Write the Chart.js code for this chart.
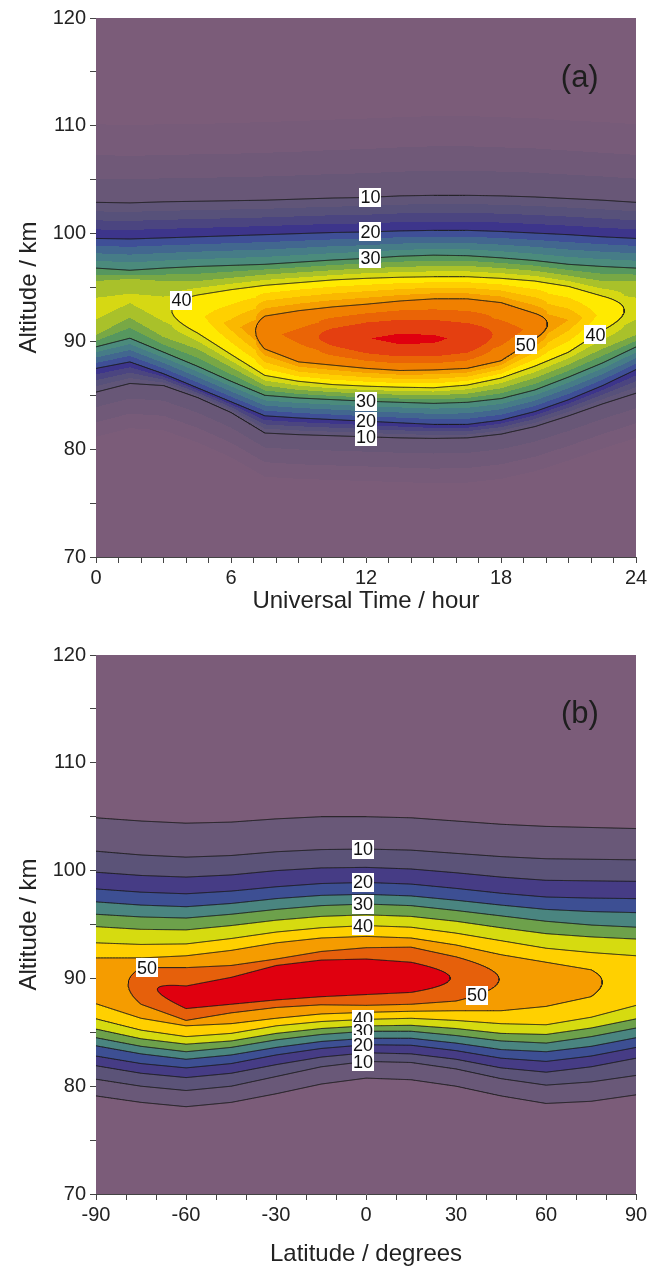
<!DOCTYPE html>
<html><head><meta charset="utf-8">
<script src="https://cdn.jsdelivr.net/npm/chart.js@4/dist/chart.umd.min.js"></script>
<style>
html,body{margin:0;padding:0;background:#fff;}
#wrapA{position:absolute;left:0;top:0;width:651px;height:637px;}
#wrapB{position:absolute;left:0;top:637px;width:651px;height:634px;}
</style></head><body>
<div id="wrapA"><canvas id="chartA" width="651" height="637"></canvas></div>
<div id="wrapB"><canvas id="chartB" width="651" height="634"></canvas></div>
<script>
// ===================== DATA : panel (a) =====================
// columns: universal time (hours)
const utHours = [0, 1.5, 3, 4.5, 6, 7.5, 9, 10.5, 12, 13.5, 15, 16.5, 18, 19.5, 21, 22.5, 24];
// altitude (km) where the field crosses each level, above (Up) and below (Lo) the peak
const aUp0  = [113.0,112.9,113.0,113.0,113.1,113.2,113.3,113.4,113.5,113.6,113.7,113.7,113.6,113.5,113.3,113.2,113.0];
const aUp5  = [107.3,107.2,107.3,107.35,107.4,107.5,107.6,107.75,107.85,108.0,108.1,108.1,108.0,107.9,107.7,107.5,107.3];
const aUp10 = [102.9,102.85,102.95,103.0,103.05,103.1,103.2,103.3,103.35,103.5,103.55,103.55,103.5,103.4,103.25,103.1,102.9];
const aUp20 = [99.55,99.5,99.6,99.7,99.8,99.9,100.0,100.1,100.15,100.25,100.3,100.3,100.2,100.05,99.9,99.7,99.55];
const aUp30 = [96.8,96.6,96.8,96.95,97.05,97.15,97.35,97.55,97.7,97.9,98.0,97.95,97.75,97.5,97.15,96.95,96.8];
const aUp35 = [95.6,95.8,95.6,95.6,95.9,96.2,96.4,96.6,96.8,96.9,97.0,97.0,96.8,96.55,96.1,95.6,95.6];
const aUp40 = [null,null,null,94.3,94.8,95.2,95.45,95.7,95.85,95.95,96.0,96.0,95.85,95.6,95.1,94.2,null];
const aUp50 = [null,null,null,null,null,92.35,92.85,93.2,93.45,93.75,93.95,93.95,93.6,92.6,null,null,null];
const aUp55 = [null,null,null,null,null,null,null,91.2,91.75,92.0,92.0,91.7,null,null,null,null,null];
const aLo55 = [null,null,null,null,null,null,null,89.6,88.9,88.6,88.6,88.95,null,null,null,null,null];
const aLo50 = [null,null,null,null,null,89.3,88.1,87.8,87.5,87.3,87.35,87.5,88.2,90.2,null,null,null];
const aLo40 = [null,null,null,90.8,88.8,86.85,86.3,86.0,85.85,85.75,85.7,85.95,86.6,87.7,89.0,91.0,null];
const aLo35 = [90.6,92.2,90.4,89.3,87.6,85.9,85.5,85.3,85.15,85.05,85.0,85.15,85.65,86.6,87.85,89.3,90.6];
const aLo30 = [89.5,90.3,89.0,87.7,86.3,85.0,84.75,84.6,84.45,84.35,84.25,84.35,84.7,85.5,86.7,88.0,89.5];
const aLo20 = [87.5,88.1,87.0,85.7,84.4,83.1,82.9,82.75,82.6,82.45,82.3,82.3,82.7,83.5,84.6,85.9,87.4];
const aLo10 = [85.3,86.1,85.9,84.8,83.4,81.5,81.35,81.25,81.15,81.05,81.0,81.05,81.4,82.1,83.1,84.2,85.2];
const aLo5  = [82.5,83.3,83.1,82.0,80.6,78.8,78.6,78.5,78.4,78.3,78.2,78.25,78.6,79.3,80.3,81.4,82.4];
const aLo0  = [79.8,80.6,80.4,79.3,77.9,76.1,75.9,75.8,75.7,75.6,75.5,75.55,75.9,76.6,77.6,78.7,79.7];
const aPeak    = [39.2,38.3,39.5,41.5,46,51.5,53.5,56,57.3,58.5,58.2,56.5,54.5,51.5,47.5,41.5,39.2];
const aPeakAlt = [93.0,94.0,93.0,92.5,91.5,90.8,90.5,90.4,90.3,90.2,90.2,90.4,90.7,91.3,92.0,92.5,93.0];
const aLineLevels = [10, 20, 30, 40, 50];
const aColors = ['#7b5c79','#775b79','#705978','#685777','#605578','#57517a','#4b4580','#3d358b',
                 '#3f4f97','#42678f','#467c87','#4b8b7c','#56975f','#78a845','#a9c12a','#d6d813',
                 '#ffea00','#ffd000','#fab800','#f59d00','#f08000','#ea6406','#e43f10','#e0000f'];
const aXTicks = [0, 6, 12, 18, 24];

// ===================== DATA : panel (b) =====================
const latDeg = [-90, -75, -60, -45, -30, -15, 0, 15, 30, 45, 60, 75, 90];
const bUp5  = [104.9,104.6,104.4,104.5,104.8,105.0,105.0,104.9,104.6,104.3,104.1,104.0,103.9];
const bUp10 = [101.8,101.45,101.25,101.4,101.75,101.95,102.0,101.9,101.6,101.3,101.1,101.05,101.0];
const bUp15 = [99.85,99.55,99.4,99.6,100.0,100.25,100.3,100.15,99.8,99.4,99.1,99.05,99.0];
const bUp20 = [98.3,98.0,97.85,98.1,98.5,98.8,98.9,98.75,98.35,97.9,97.55,97.45,97.4];
const bUp25 = [97.1,96.8,96.65,96.95,97.4,97.7,97.8,97.65,97.25,96.8,96.4,96.2,96.1];
const bUp30 = [95.95,95.7,95.6,95.95,96.4,96.75,96.9,96.75,96.3,95.8,95.3,94.95,94.75];
const bUp35 = [94.8,94.55,94.5,94.9,95.4,95.75,95.9,95.75,95.3,94.7,94.15,93.85,93.65];
const bUp40 = [93.3,93.15,93.2,93.7,94.3,94.7,94.9,94.75,94.2,93.5,92.8,92.4,92.1];
const bUp45 = [91.9,91.9,92.1,92.6,93.3,93.75,93.9,93.75,93.1,92.2,91.5,90.8,null];
const bUp50 = [null,91.0,91.0,91.2,91.8,92.5,92.85,92.9,92.0,null,null,null,null];
const bUp55 = [null,null,89.3,90.1,91.2,91.7,91.8,91.5,null,null,null,null,null];
const bLo55 = [null,null,87.2,87.6,88.0,88.3,88.5,88.7,null,null,null,null,null];
const bLo50 = [null,87.6,86.1,86.8,87.3,87.55,87.5,87.6,87.9,null,null,null,null];
const bLo45 = [87.65,86.3,85.6,85.8,86.3,86.7,86.85,86.95,87.0,87.0,87.4,88.3,null];
const bLo40 = [86.25,85.2,84.6,84.9,85.6,86.0,86.2,86.3,86.1,85.8,85.7,86.4,87.5];
const bLo35 = [85.3,84.4,83.9,84.2,84.9,85.35,85.6,85.65,85.35,84.9,84.8,85.4,86.25];
const bLo30 = [84.5,83.7,83.2,83.6,84.3,84.8,85.1,85.1,84.7,84.2,84.0,84.6,85.4];
const bLo25 = [83.75,83.0,82.5,82.9,83.6,84.15,84.45,84.45,84.0,83.4,83.2,83.7,84.5];
const bLo20 = [82.8,82.1,81.7,82.1,82.9,83.5,83.85,83.8,83.3,82.6,82.3,82.8,83.6];
const bLo15 = [81.9,81.2,80.8,81.2,82.0,82.7,83.1,83.0,82.5,81.7,81.3,81.8,82.6];
const bLo10 = [80.65,80.0,79.6,80.0,80.9,81.8,82.3,82.2,81.6,80.7,80.1,80.4,81.0];
const bLo5  = [79.1,78.5,78.1,78.5,79.3,80.2,80.75,80.6,80.0,79.1,78.4,78.6,79.2];
const bPeak    = [47.5,51.0,62.0,60.0,59.5,59.0,58.5,58.4,54.5,49.8,48.0,46.5,40.5];
const bPeakAlt = [89.8,89.4,88.3,88.8,89.5,89.9,90.1,90.1,90.0,89.9,89.7,89.6,89.8];
const bLineLevels = [5, 10, 15, 20, 25, 30, 35, 40, 45, 50, 55];
const bColors = ['#7b5c79','#695878','#5b5378','#463c85','#3d4f93','#4a8580',
                 '#6da14b','#d6db10','#ffd000','#f59c00','#e6600b','#e0000f'];
const bXTicks = [-90, -60, -30, 0, 30, 60, 90];
const yTicks = [70, 80, 90, 100, 110, 120];

// ===================== field model =====================
function makePanel(xs, levelDefs, peak, peakAlt, yMin, yMax) {
  return {
    xs, yMin, yMax,
    levels: levelDefs.map(d => d[0]),
    cols: xs.map((x, i) => ({
      x, peak: peak[i], pa: peakAlt[i],
      up: levelDefs.map(d => d[1][i]), lo: levelDefs.map(d => d[2][i])
    }))
  };
}
const panelA = makePanel(utHours,
  [[0,aUp0,aLo0],[5,aUp5,aLo5],[10,aUp10,aLo10],[20,aUp20,aLo20],[30,aUp30,aLo30],[35,aUp35,aLo35],[40,aUp40,aLo40],[50,aUp50,aLo50],[55,aUp55,aLo55]],
  aPeak, aPeakAlt, 70, 120);
const panelB = makePanel(latDeg,
  [[5,bUp5,bLo5],[10,bUp10,bLo10],[15,bUp15,bLo15],[20,bUp20,bLo20],[25,bUp25,bLo25],[30,bUp30,bLo30],
   [35,bUp35,bLo35],[40,bUp40,bLo40],[45,bUp45,bLo45],[50,bUp50,bLo50],[55,bUp55,bLo55]],
  bPeak, bPeakAlt, 70, 120);

function profileAt(P, x) {
  const xs = P.xs; let i = 0;
  while (i < xs.length - 2 && x > xs[i + 1]) i++;
  let t = (x - xs[i]) / (xs[i + 1] - xs[i]); t = Math.max(0, Math.min(1, t));
  const A = P.cols[i], B = P.cols[i + 1];
  const pv = A.peak + (B.peak - A.peak) * t;
  const pa = A.pa + (B.pa - A.pa) * t;
  const lv = [];
  P.levels.forEach((k, j) => {
    if (k >= pv) return;
    const aOk = A.up[j] != null && A.peak > k, bOk = B.up[j] != null && B.peak > k;
    let up, lo;
    if (aOk && bOk) {
      up = A.up[j] + (B.up[j] - A.up[j]) * t; lo = A.lo[j] + (B.lo[j] - A.lo[j]) * t;
    } else if (aOk) {
      const ts = (A.peak - B.peak) > 0 ? (A.peak - k) / (A.peak - B.peak) : 1;
      const s = Math.sqrt(Math.max(0, 1 - t / ts));
      up = pa + (A.up[j] - A.pa) * s; lo = pa + (A.lo[j] - A.pa) * s;
    } else if (bOk) {
      const ts = (B.peak - A.peak) > 0 ? (k - A.peak) / (B.peak - A.peak) : 0;
      const s = Math.sqrt(Math.max(0, (t - ts) / (1 - ts)));
      up = pa + (B.up[j] - B.pa) * s; lo = pa + (B.lo[j] - B.pa) * s;
    } else return;
    lv.push({ k, up, lo });
  });
  return { pv, pa, lv };
}

function profilePoints(P, pr) {
  const alt = [P.yMin], val = [0];
  pr.lv.forEach(e => { alt.push(Math.max(e.lo, alt[alt.length - 1])); val.push(e.k); });
  alt.push(Math.max(pr.pa, alt[alt.length - 1])); val.push(pr.pv);
  for (let q = pr.lv.length - 1; q >= 0; q--) { alt.push(Math.max(pr.lv[q].up, alt[alt.length - 1])); val.push(pr.lv[q].k); }
  alt.push(Math.max(P.yMax, alt[alt.length - 1])); val.push(0);
  return { alt, val };
}

function hexToRgb(h) { const n = parseInt(h.slice(1), 16); return [(n >> 16) & 255, (n >> 8) & 255, n & 255]; }

// ===================== contour line datasets =====================
function levelAt(P, x, k) { return profileAt(P, x).lv.find(e => e.k === k) || null; }
function tipPoint(P, k, xIn, xOut) {
  for (let it = 0; it < 30; it++) { const m = (xIn + xOut) / 2; if (levelAt(P, m, k)) xIn = m; else xOut = m; }
  return { x: xIn, y: profileAt(P, xIn).pa };
}
function lineSet(pts) {
  return { data: pts, showLine: true, pointRadius: 0, pointHoverRadius: 0, borderColor: '#1a1a1a', borderWidth: 1, fill: false, tension: 0 };
}
function contourDatasets(P, lineLevels, n) {
  const xMin = P.xs[0], xMax = P.xs[P.xs.length - 1];
  const sets = [];
  lineLevels.forEach(k => {
    const runs = []; let run = null; let prevX = null;
    for (let s = 0; s <= n; s++) {
      const x = xMin + (xMax - xMin) * s / n;
      const L = levelAt(P, x, k);
      if (L) {
        if (!run) run = { start: s, startOut: prevX, ups: [], los: [] };
        run.ups.push({ x, y: L.up }); run.los.push({ x, y: L.lo }); run.end = s; run.lastX = x;
      } else if (run) { run.endOut = x; runs.push(run); run = null; }
      prevX = x;
    }
    if (run) runs.push(run);
    runs.forEach(r => {
      const atL = r.start === 0, atR = r.end === n;
      const tipL = atL ? null : tipPoint(P, k, r.ups[0].x, r.startOut);
      const tipR = atR ? null : tipPoint(P, k, r.lastX, r.endOut);
      if (atL && atR) { sets.push(lineSet(r.ups)); sets.push(lineSet(r.los)); }
      else if (atL) sets.push(lineSet(r.ups.concat([tipR], r.los.slice().reverse())));
      else if (atR) sets.push(lineSet(r.ups.slice().reverse().concat([tipL], r.los)));
      else sets.push(lineSet([tipL].concat(r.ups, [tipR], r.los.slice().reverse(), [tipL])));
    });
  });
  return sets;
}

// ===================== plugins =====================
const contourFill = {
  id: 'contourFill',
  beforeDatasetsDraw(chart, args, opts) {
    const P = opts.panel; if (!P) return;
    const ca = chart.chartArea;
    const left = Math.round(ca.left), top = Math.round(ca.top);
    const w = Math.round(ca.right) - left, h = Math.round(ca.bottom) - top;
    const xS = chart.scales.x, yS = chart.scales.y;
    const off = document.createElement('canvas'); off.width = w; off.height = h;
    const octx = off.getContext('2d'); const img = octx.createImageData(w, h); const d = img.data;
    const rgb = opts.colors.map(hexToRgb); const nb = rgb.length;
    const alts = new Float64Array(h);
    for (let r = 0; r < h; r++) alts[r] = yS.getValueForPixel(top + r + 0.5);
    for (let c = 0; c < w; c++) {
      const x = xS.getValueForPixel(left + c + 0.5);
      const pts = profilePoints(P, profileAt(P, x));
      const A = pts.alt, V = pts.val; let idx = 0;
      for (let r = h - 1; r >= 0; r--) {
        const a = alts[r];
        while (idx < A.length - 2 && a > A[idx + 1]) idx++;
        const a0 = A[idx], a1 = A[idx + 1]; let v;
        if (a <= a0) v = V[idx]; else if (a >= a1) v = V[idx + 1];
        else v = V[idx] + (V[idx + 1] - V[idx]) * (a - a0) / (a1 - a0);
        let b = Math.floor(v / opts.step + 1e-9); if (b < 0) b = 0; if (b > nb - 1) b = nb - 1;
        const o = (r * w + c) * 4; const col = rgb[b];
        d[o] = col[0]; d[o + 1] = col[1]; d[o + 2] = col[2]; d[o + 3] = 255;
      }
    }
    octx.putImageData(img, 0, 0);
    chart.ctx.drawImage(off, left, top);
  }
};
const contourLabels = {
  id: 'contourLabels',
  afterDatasetsDraw(chart, args, opts) {
    const P = opts.panel; if (!P) return;
    const ctx = chart.ctx, xS = chart.scales.x, yS = chart.scales.y;
    ctx.save();
    ctx.font = '18px "Liberation Sans", Arial, sans-serif';
    ctx.textAlign = 'center'; ctx.textBaseline = 'middle';
    opts.labels.forEach(L => {
      const e = levelAt(P, L.x, L.level); if (!e) return;
      const px = xS.getPixelForValue(L.x), py = yS.getPixelForValue(L.side === 'up' ? e.up : e.lo);
      const txt = String(L.level); const tw = ctx.measureText(txt).width + 2, th = 19;
      ctx.fillStyle = '#ffffff'; ctx.fillRect(Math.round(px - tw / 2), Math.round(py - th / 2), Math.round(tw), th);
      ctx.fillStyle = '#111111'; ctx.fillText(txt, px, py + 1);
    });
    if (opts.tag) {
      ctx.font = '31px "Liberation Sans", Arial, sans-serif';
      ctx.fillStyle = '#1e1e1e';
      ctx.fillText(opts.tag.text, xS.getPixelForValue(opts.tag.x), yS.getPixelForValue(opts.tag.y));
    }
    ctx.restore();
  }
};

// ===================== charts =====================
Chart.defaults.font.family = '"Liberation Sans", Arial, sans-serif';
Chart.defaults.color = '#222';

function axisCommon() {
  return {
    grid: { display: true, drawOnChartArea: false, drawTicks: true, tickLength: 6, tickColor: '#444', tickWidth: 1 },
    border: { display: true, color: '#444', width: 1 }
  };
}
function makeChart(id, P, lineLevels, colors, step, xMin, xMax, xMinorStep, xTicks, xTitle, canvasH, xTitlePad, labels, tag) {
  const minor = []; for (let v = xMin; v <= xMax + 1e-9; v += xMinorStep) minor.push(v);
  const yMinor = []; for (let v = 70; v <= 120; v += 5) yMinor.push(v);
  return new Chart(document.getElementById(id), {
    type: 'scatter',
    data: { datasets: contourDatasets(P, lineLevels, 1080) },
    options: {
      responsive: false, animation: false, events: [], devicePixelRatio: 1,
      layout: { padding: { left: 0, right: 15, top: 18, bottom: 0 } },
      scales: {
        x: Object.assign(axisCommon(), {
          type: 'linear', min: xMin, max: xMax,
          afterBuildTicks: s => { s.ticks = minor.map(v => ({ value: v })); },
          afterFit: s => { s.height = canvasH - 18 - 539; },
          ticks: { autoSkip: false, maxRotation: 0, padding: 3, font: { size: 20 }, color: '#222',
                   callback: v => xTicks.includes(v) ? String(v) : '' },
          title: { display: true, text: xTitle, font: { size: 24 }, color: '#222', padding: { top: 0, bottom: xTitlePad } }
        }),
        y: Object.assign(axisCommon(), {
          type: 'linear', min: 70, max: 120,
          afterBuildTicks: s => { s.ticks = yMinor.map(v => ({ value: v })); },
          afterFit: s => { s.width = 96; },
          ticks: { autoSkip: false, padding: 4, font: { size: 20 }, color: '#222',
                   callback: v => yTicks.includes(v) ? String(v) : '' },
          title: { display: true, text: 'Altitude / km', font: { size: 24 }, color: '#222', padding: { top: 15, bottom: 0 } }
        })
      },
      plugins: {
        legend: { display: false }, tooltip: { enabled: false },
        contourFill: { panel: P, colors, step },
        contourLabels: { panel: P, labels, tag }
      }
    },
    plugins: [contourFill, contourLabels]
  });
}

makeChart('chartA', panelA, aLineLevels, aColors, 2.5, 0, 24, 1, aXTicks, 'Universal Time / hour', 637, 21,
  [
    { level: 10, x: 12.2, side: 'up' }, { level: 20, x: 12.2, side: 'up' }, { level: 30, x: 12.2, side: 'up' },
    { level: 40, x: 3.8, side: 'up' }, { level: 40, x: 22.2, side: 'lo' }, { level: 50, x: 19.1, side: 'lo' },
    { level: 30, x: 12.0, side: 'lo' }, { level: 20, x: 12.0, side: 'lo' }, { level: 10, x: 12.0, side: 'lo' }
  ],
  { text: '(a)', x: 21.5, y: 114.4 });

makeChart('chartB', panelB, bLineLevels, bColors, 5, -90, 90, 10, bXTicks, 'Latitude / degrees', 634, 2,
  [
    { level: 10, x: -1, side: 'up' }, { level: 20, x: -1, side: 'up' }, { level: 30, x: -1, side: 'up' }, { level: 40, x: -1, side: 'up' },
    { level: 50, x: -73, side: 'up' }, { level: 50, x: 37, side: 'lo' },
    { level: 40, x: -1, side: 'lo' }, { level: 30, x: -1, side: 'lo' }, { level: 20, x: -1, side: 'lo' }, { level: 10, x: -1, side: 'lo' }
  ],
  { text: '(b)', x: 71.3, y: 114.5 });
</script>
</body></html>
